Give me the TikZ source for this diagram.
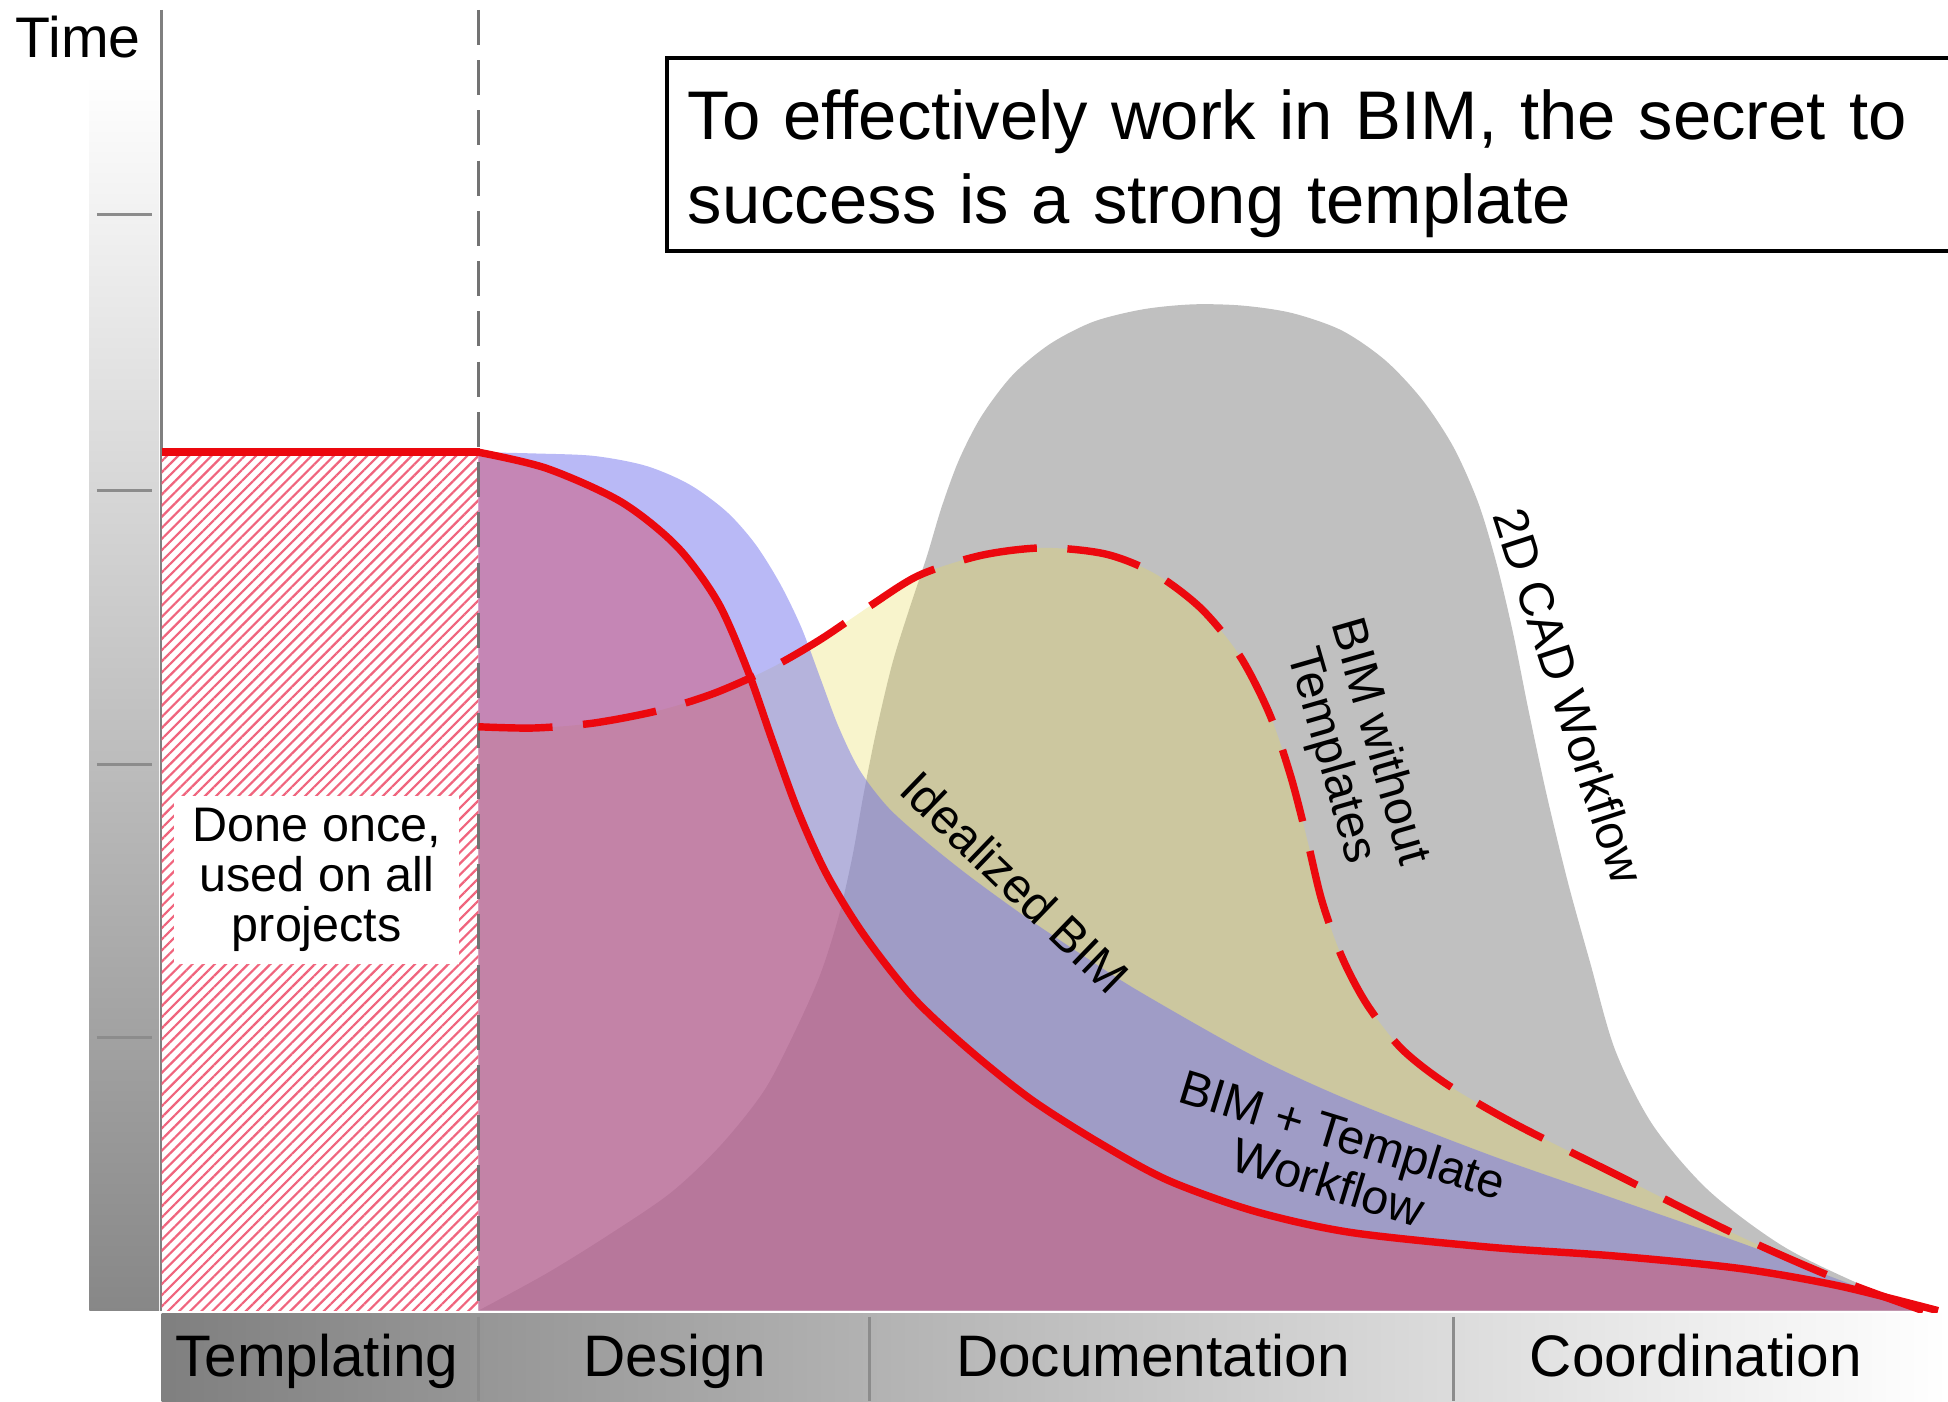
\documentclass[tikz,border=0pt]{standalone}
\usepackage{fontspec}
\setmainfont{Liberation Sans}
\usetikzlibrary{patterns.meta}
\definecolor{cadgray}{RGB}{192,192,192}
\definecolor{notplyellow}{RGB}{232,218,85}
\definecolor{tplblue}{RGB}{115,115,238}
\definecolor{idealred}{RGB}{212,78,108}
\definecolor{curvered}{RGB}{236,8,14}
\definecolor{hatchred}{RGB}{240,100,125}
\tikzset{%
  % Specifications for style of areas and curves:
      cadArea/.style = {fill=cadgray},
    noTplArea/.style = {fill=notplyellow, fill opacity=0.3},
      tplArea/.style = {fill=tplblue, fill opacity=0.5},
    idealArea/.style = {fill=idealred, fill opacity=0.47},
    idealLine/.style = {draw=curvered, line width=1.7pt},
    noTplLine/.style = {idealLine, dash pattern=on 17pt off 7pt},
  % Specifications for style of texts:
         base/.style = {inner sep=0pt, text=black},
        phase/.style = {base, anchor=base, font=\fontsize{13.4}{16}\selectfont},
   curveLabel/.style = {base, align=center, font=\fontsize{11.1}{11.4}\selectfont},
}
% curves of the four workflows
\newcommand{\cadCurve}{plot[smooth] coordinates {(385,-1055) (440,-1025) (490,-994)
  (540,-960) (580,-922) (615,-878) (640,-830) (660,-785) (675,-738) (686,-690)
  (695,-640) (705,-590) (718,-535) (732,-490) (746,-448) (758,-408) (772,-370)
  (790,-335) (815,-302) (845,-277) (880,-259) (920,-249) (960,-245) (1000,-246)
  (1040,-252) (1080,-266) (1115,-290) (1145,-322) (1170,-360) (1190,-405)
  (1205,-455) (1218,-510) (1230,-570) (1245,-640) (1262,-710) (1280,-775)
  (1300,-845) (1330,-905) (1375,-958) (1435,-1003) (1500,-1035) (1552,-1055)}}
\newcommand{\noTplCurve}{plot[smooth] coordinates {(385,-585) (430,-586) (478,-582)
  (530,-572) (575,-558) (620,-538) (660,-515) (700,-488) (740,-463) (790,-447)
  (840,-441) (890,-446) (930,-462) (967,-490) (998,-528) (1022,-575) (1039,-625)
  (1052,-675) (1064,-725) (1080,-770) (1100,-808) (1128,-844) (1165,-873)
  (1220,-905) (1300,-945) (1400,-995) (1480,-1030) (1548,-1055)}}
\newcommand{\tplCurve}{plot[smooth] coordinates {(385,-364) (430,-365) (478,-367)
  (520,-375) (555,-390) (585,-412) (608,-438) (628,-470) (645,-505) (660,-545)
  (675,-585) (692,-620) (715,-650) (745,-677) (780,-705) (824,-737) (870,-768)
  (917,-798) (1009,-850) (1087,-886) (1200,-930) (1300,-965) (1400,-1000)
  (1480,-1030) (1545,-1055)}}
\newcommand{\idealCurve}{plot[smooth] coordinates {(385,-364) (440,-377) (500,-404)
  (545,-440) (578,-485) (602,-540) (622,-597) (642,-652) (665,-703) (695,-752)
  (735,-803) (780,-845) (830,-885) (885,-920) (940,-950) (1010,-975) (1087,-992)
  (1200,-1004) (1300,-1011) (1400,-1021) (1480,-1035) (1560,-1055)}}

\begin{document}
\begin{tikzpicture}[x=0.01cm, y=0.01cm]
  \useasboundingbox (0,-1128) rectangle (1568,0);
  % Time scale on the left
  \shade[top color=white, bottom color=black!47] (72,-60) rectangle (128,-1055);
  \foreach \y in {173,395,615,835}
    \draw[black!45, line width=0.7pt] (78,-\y) -- (122,-\y);
  \draw[black!50, line width=0.7pt] (130,-8) -- (130,-1055);
  \node (time) [base, font=\fontsize{13.1}{15}\selectfont] at (63,-30) {Time};
  % Areas of the workflows
  \fill[cadArea] \cadCurve -- cycle;
  \fill[noTplArea] \noTplCurve -- (385,-1055) -- cycle;
  \fill[tplArea] \tplCurve -- (385,-1055) -- cycle;
  \fill[idealArea] \idealCurve -- (385,-1055) -- cycle;
  % Templating block
  \fill[white] (130,-364) rectangle (385,-1055);
  \fill[pattern={Lines[angle=45,distance=1.8pt,line width=0.5pt]},
    pattern color=hatchred] (130,-364) rectangle (385,-1055);
  \draw[black!55, line width=0.6pt, dash pattern=on 8pt off 3.5pt] (385,-8) -- (385,-1055);
  % Curves
  \draw[idealLine] (130,-364) -- (386,-364);
  \draw[idealLine] \idealCurve;
  \draw[noTplLine] \noTplCurve;
  % Labels
  \node (once) [curveLabel, fill=white, inner xsep=0.15cm, inner ysep=0.1cm] at (255,-708)
    {Done once,\\ used on all\\ projects};
  \node (ideal) [curveLabel, rotate=-44] at (817,-710) {Idealized BIM};
  \node (noTpl) [curveLabel, rotate=-74] at (1090,-603) {BIM without\\ Templates};
  \node (cad) [curveLabel, rotate=-72] at (1263,-560) {2D CAD Workflow};
  \node (tpl) [curveLabel, rotate=-17] at (1075,-932) {BIM + Template\\ Workflow};
  % Phases bar
  \shade[left color=black!50, right color=white] (130,-1057) rectangle (1568,-1128);
  \foreach \x in {385,700,1170}
    \draw[black!45, line width=0.7pt] (\x,-1060) -- (\x,-1128);
  \node (tmpl) [phase] at (255,-1108) {Templating};
  \node (design) [phase] at (543,-1108) {Design};
  \node (docu) [phase] at (928,-1108) {Documentation};
  \node (coord) [phase] at (1365,-1108) {Coordination};
  % Message box
  \node (secret) [draw, line width=0.9pt, anchor=north west, minimum width=10.5cm,
    minimum height=1.55cm] at (535,-45) {};
  \node (secretText) [base, anchor=base west, text width=10cm, align=left,
    font=\fontsize{15.75}{19.3}\selectfont] at (553,-112)
    {To effectively work in BIM, the secret to\\ success is a strong template};
\end{tikzpicture}
\end{document}
